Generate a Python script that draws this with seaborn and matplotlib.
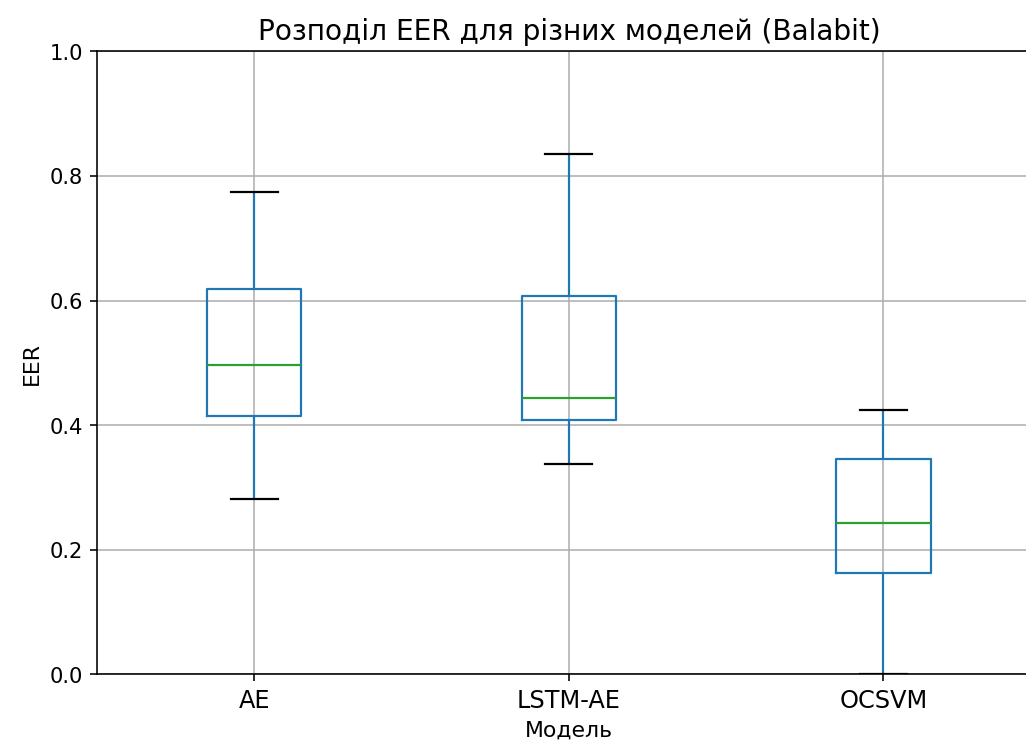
import pandas as pd
import seaborn as sns
import matplotlib.pyplot as plt

# EER values per model
ae = [0.281, 0.414, 0.496, 0.618, 0.775]
lstm_ae = [0.337, 0.408, 0.443, 0.607, 0.835]
ocsvm = [0.000, 0.162, 0.242, 0.345, 0.424]
models = ['AE', 'LSTM-AE', 'OCSVM']

df = pd.DataFrame({
    'Модель': [models[0]] * len(ae) + [models[1]] * len(lstm_ae) + [models[2]] * len(ocsvm),
    'EER': ae + lstm_ae + ocsvm,
})

plt.figure(figsize=(7.13, 5.17), dpi=144)
ax = sns.boxplot(
    x='Модель', y='EER', data=df, order=models,
    fill=False, width=0.3, linewidth=1.1,
    boxprops={'color': '#1f77b4'},
    whiskerprops={'color': '#1f77b4'},
    capprops={'color': 'black'},
    medianprops={'color': '#2ca02c'},
    capwidths=0.15,
)
ax.grid(True)
ax.set_axisbelow(True)
ax.set_ylim(0, 1.0)
ax.set_xlim(-0.5, 2.5)
plt.title('Розподіл EER для різних моделей (Balabit)', fontsize=14)
plt.xlabel('Модель', fontsize=11)
plt.ylabel('EER', fontsize=11)
plt.xticks(fontsize=12)
plt.yticks(fontsize=10.5)
# the source image is cropped on the right, so the right spine falls outside
ax.set_position([97/1027, 1 - 675/745, (1041 - 97)/1027, (675 - 52)/745])
plt.savefig('out.png', dpi=144)
